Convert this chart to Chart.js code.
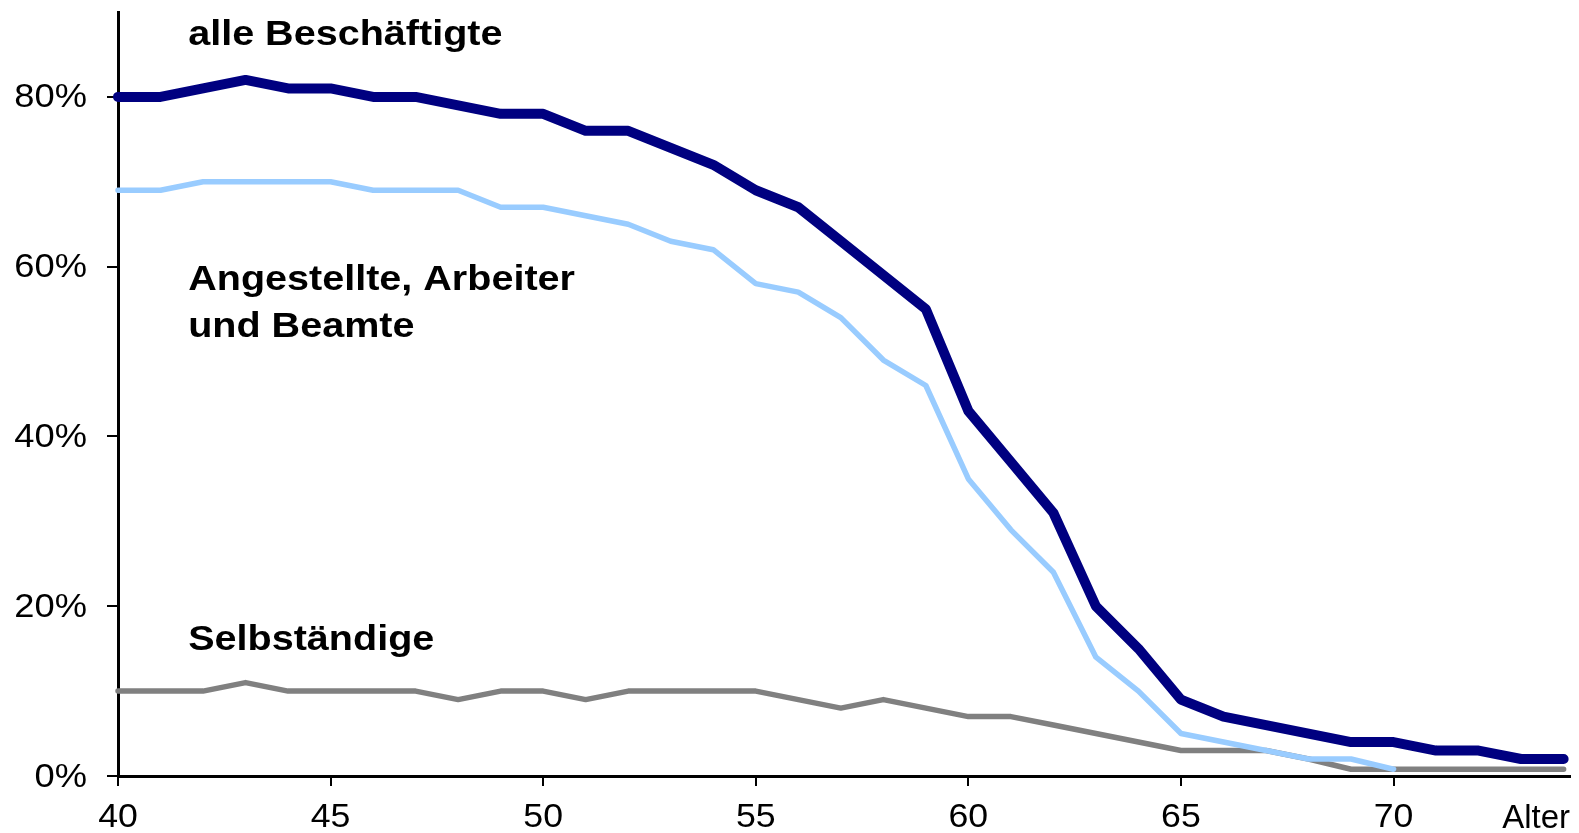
<!DOCTYPE html>
<html>
<head>
<meta charset="utf-8">
<script src="https://cdn.jsdelivr.net/npm/chart.js@4/dist/chart.umd.min.js"></script>
<style>
  html, body { margin: 0; padding: 0; background: #fff; }
  #wrap { width: 1579px; height: 833px; position: relative; }
</style>
</head>
<body>
<div id="wrap"><canvas id="chart"></canvas></div>
<script>
// Alter (x axis)
const ages = [40, 41, 42, 43, 44, 45, 46, 47, 48, 49,
              50, 51, 52, 53, 54, 55, 56, 57, 58, 59,
              60, 61, 62, 63, 64, 65, 66, 67, 68, 69,
              70, 71, 72, 73, 74];

// Erwerbsquote in %
const alle = [80, 80, 81, 82, 81, 81, 80, 80, 79, 78,
              78, 76, 76, 74, 72, 69, 67, 63, 59, 55,
              43, 37, 31, 20, 15, 9, 7, 6, 5, 4,
              4, 3, 3, 2, 2];
const angestellte = [69, 69, 70, 70, 70, 70, 69, 69, 69, 67,
                     67, 66, 65, 63, 62, 58, 57, 54, 49, 46,
                     35, 29, 24, 14, 10, 5, 4, 3, 2, 2,
                     0.8];
const selbstaendige = [10, 10, 10, 11, 10, 10, 10, 10, 9, 10,
                       10, 9, 10, 10, 10, 10, 9, 8, 9, 8,
                       7, 7, 6, 5, 4, 3, 3, 3, 2, 0.8,
                       0.8, 0.8, 0.8, 0.8, 0.8];

const yTicks = [0, 20, 40, 60, 80];
const xTicks = [40, 45, 50, 55, 60, 65, 70];

// series labels written into the plot: [text, age, percent (baseline)]
const seriesLabels = [
  ["alle Beschäftigte", 41.65, 86.1],
  ["Angestellte, Arbeiter", 41.65, 57.3],
  ["und Beamte", 41.65, 51.75],
  ["Selbständige", 41.65, 14.85]
];

const FONT = "'Liberation Sans', Arial, sans-serif";

function toPoints(values) {
  return values.map((v, i) => ({ x: ages[i], y: v }));
}

function noPadding(s) {
  s.paddingTop = 0;
  s.paddingBottom = 0;
  s.paddingLeft = 0;
  s.paddingRight = 0;
}

// text is drawn a bit wider than the font, like the original export
function wideText(ctx, text, x, y, align, sx) {
  ctx.save();
  ctx.translate(x, y);
  ctx.scale(sx, 1);
  ctx.textAlign = align;
  ctx.fillText(text, 0, 0);
  ctx.restore();
}

const textPlugin = {
  id: "chartText",
  afterDraw(chart) {
    const ctx = chart.ctx;
    const xs = chart.scales.x;
    const ys = chart.scales.y;
    ctx.save();
    ctx.fillStyle = "#000";
    ctx.textBaseline = "alphabetic";

    // tick labels
    ctx.font = "33px " + FONT;
    yTicks.forEach((v) => {
      wideText(ctx, v + "%", ys.left + 87, ys.getPixelForValue(v) + 10.5, "right", 1.1);
    });
    ctx.font = "34px " + FONT;
    xTicks.forEach((v) => {
      wideText(ctx, String(v), xs.getPixelForValue(v), 827, "center", 1.05);
    });
    ctx.font = "33px " + FONT;
    wideText(ctx, "Alter", chart.chartArea.right, 828, "right", 1.0);

    // series names
    ctx.font = "bold 35px " + FONT;
    seriesLabels.forEach(([text, ax, ay]) => {
      wideText(ctx, text, xs.getPixelForValue(ax), ys.getPixelForValue(ay), "left", 1.13);
    });
    ctx.restore();
  }
};

new Chart(document.getElementById("chart"), {
  type: "line",
  data: {
    datasets: [
      {
        label: "alle Beschäftigte",
        data: toPoints(alle),
        borderColor: "#000080",
        borderWidth: 10,
        order: 1
      },
      {
        label: "Angestellte, Arbeiter und Beamte",
        data: toPoints(angestellte),
        borderColor: "#99CCFF",
        borderWidth: 5.5,
        order: 2
      },
      {
        label: "Selbständige",
        data: toPoints(selbstaendige),
        borderColor: "#808080",
        borderWidth: 5.5,
        order: 3
      }
    ]
  },
  options: {
    responsive: true,
    maintainAspectRatio: false,
    animation: false,
    devicePixelRatio: 1,
    layout: { padding: { top: 12, right: 9, left: 0, bottom: 0 } },
    elements: {
      point: { radius: 0 },
      line: { tension: 0, borderCapStyle: "round", borderJoinStyle: "round", fill: false }
    },
    datasets: { line: { clip: false } },
    plugins: {
      legend: { display: false },
      tooltip: { enabled: false }
    },
    scales: {
      x: {
        type: "linear",
        min: 40,
        max: 74.15,
        afterFit: (s) => { s.height = 57; noPadding(s); },
        afterBuildTicks: (s) => { s.ticks = xTicks.map((v) => ({ value: v })); },
        border: { display: true, color: "#000", width: 3 },
        grid: { drawOnChartArea: false, drawTicks: true, tickLength: 10, color: "#000", lineWidth: 2 },
        ticks: { display: false }
      },
      y: {
        min: 0,
        max: 90,
        afterFit: (s) => { s.width = 118; noPadding(s); },
        afterBuildTicks: (s) => { s.ticks = yTicks.map((v) => ({ value: v })); },
        border: { display: true, color: "#000", width: 3 },
        grid: { drawOnChartArea: false, drawTicks: true, tickLength: 11, color: "#000", lineWidth: 2 },
        ticks: { display: false }
      }
    }
  },
  plugins: [textPlugin]
});
</script>
</body>
</html>
